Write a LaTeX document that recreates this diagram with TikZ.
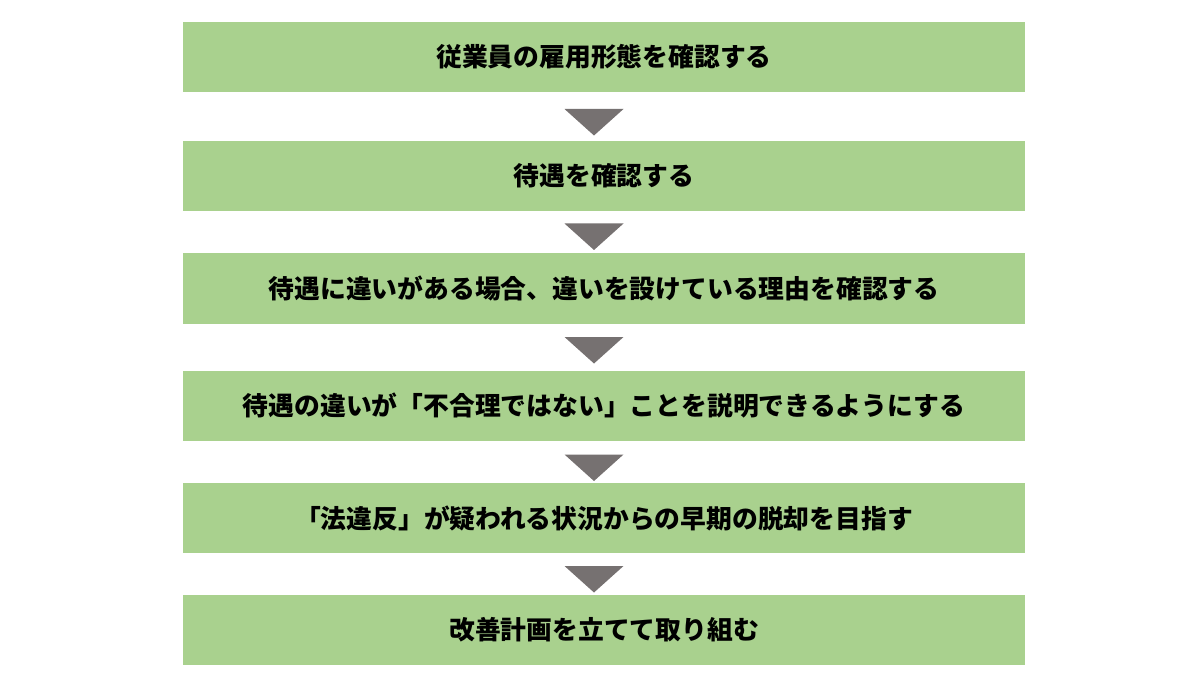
\documentclass[tikz,border=0pt]{standalone}
\usepackage{fontspec}
\setmainfont{Noto Sans CJK JP}
\begin{document}
\begin{tikzpicture}[x=1pt,y=-1pt,
  box/.style={fill=boxgreen, draw=none, minimum width=842pt, minimum height=70pt, inner sep=0pt,
    font=\fontsize{25.8}{29}\selectfont\bfseries, text=black},
  tri/.style={fill=trigray, draw=none},
  downtri/.pic={\fill[tri] (-29.5,0) -- (29.5,0) -- (0,26.5) -- cycle;}]
\definecolor{boxgreen}{HTML}{A9D18E}
\definecolor{trigray}{HTML}{767171}
\useasboundingbox[fill=white] (0,0) rectangle (1200,687);
\node[box] (b1) at (604,57) {\raisebox{1pt}{従業員の雇用形態を確認する}};
\node[box] (b2) at (604,176) {\raisebox{1pt}{待遇を確認する}};
\node[box] (b3) at (604,288.5) {\raisebox{1pt}{待遇に違いがある場合、違いを設けている理由を確認する}};
\node[box] (b4) at (604,406) {\raisebox{1pt}{待遇の違いが「不合理ではない」ことを説明できるようにする}};
\node[box] (b5) at (604,518) {\raisebox{1pt}{「法違反」が疑われる状況からの早期の脱却を目指す}};
\node[box] (b6) at (604,630) {\raisebox{1pt}{改善計画を立てて取り組む}};
\pic at (594,109) {downtri};
\pic at (594,223.5) {downtri};
\pic at (594,337) {downtri};
\pic at (594,454.5) {downtri};
\pic at (594,566) {downtri};
\end{tikzpicture}
\end{document}
